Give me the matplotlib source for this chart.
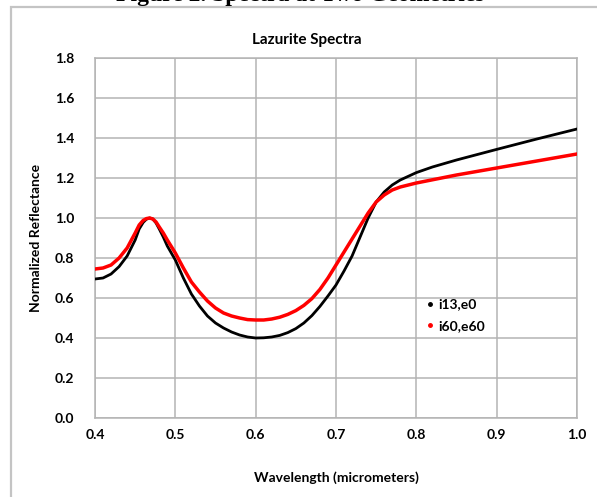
import numpy as np
import matplotlib.pyplot as plt
from matplotlib.lines import Line2D
from matplotlib.patches import Rectangle

# Data (wavelength in micrometers, normalized reflectance)
wl_black = [0.40, 0.41, 0.42, 0.43, 0.44, 0.45, 0.455, 0.46, 0.464, 0.468, 0.472, 0.476,
            0.48, 0.485, 0.49, 0.50, 0.51, 0.52, 0.53, 0.54, 0.55, 0.56, 0.57, 0.58,
            0.59, 0.60, 0.61, 0.62, 0.63, 0.64, 0.65, 0.66, 0.67, 0.68, 0.69, 0.70,
            0.71, 0.72, 0.73, 0.74, 0.75, 0.76, 0.77, 0.78, 0.80, 0.82, 0.85, 0.90,
            0.95, 1.00]
refl_black = [0.695, 0.70, 0.72, 0.757, 0.81, 0.89, 0.945, 0.978, 0.994, 1.00, 0.995, 0.975,
              0.945, 0.905, 0.86, 0.79, 0.70, 0.62, 0.56, 0.51, 0.475, 0.45, 0.43, 0.415,
              0.405, 0.40, 0.401, 0.405, 0.413, 0.427, 0.447, 0.475, 0.512, 0.558, 0.61, 0.665,
              0.735, 0.81, 0.905, 1.00, 1.08, 1.13, 1.165, 1.19, 1.227, 1.255, 1.29, 1.343,
              1.395, 1.445]

wl_red = [0.40, 0.41, 0.42, 0.43, 0.44, 0.45, 0.455, 0.46, 0.464, 0.468, 0.472, 0.476,
          0.48, 0.485, 0.49, 0.50, 0.51, 0.52, 0.53, 0.54, 0.55, 0.56, 0.57, 0.58,
          0.59, 0.60, 0.61, 0.62, 0.63, 0.64, 0.65, 0.66, 0.67, 0.68, 0.69, 0.70,
          0.71, 0.72, 0.73, 0.74, 0.75, 0.76, 0.77, 0.78, 0.80, 0.85, 0.90, 0.95, 1.00]
refl_red = [0.745, 0.75, 0.765, 0.80, 0.85, 0.925, 0.965, 0.988, 0.997, 1.00, 0.995, 0.98,
            0.955, 0.925, 0.89, 0.825, 0.75, 0.68, 0.63, 0.585, 0.55, 0.525, 0.51, 0.50,
            0.492, 0.49, 0.49, 0.495, 0.504, 0.518, 0.537, 0.563, 0.597, 0.643, 0.70, 0.765,
            0.83, 0.895, 0.96, 1.025, 1.08, 1.115, 1.14, 1.155, 1.175, 1.215, 1.25, 1.285, 1.32]

labels = ["i13,e0", "i60,e60"]
x_ticks = [0.4, 0.5, 0.6, 0.7, 0.8, 0.9, 1.0]
y_ticks = [0.0, 0.2, 0.4, 0.6, 0.8, 1.0, 1.2, 1.4, 1.6, 1.8]

plt.rcParams['font.family'] = ['Lato', 'DejaVu Sans']

W, H = 597, 497
fig = plt.figure(figsize=(W / 100, H / 100), dpi=100)
ax = fig.add_axes([95 / W, 1 - 418 / H, (577 - 95) / W, (418 - 58) / H])

# chart area frame and cropped caption above it
fig.patches.append(Rectangle((11 / W, -0.1), 1.2, 1 - 7 / H + 0.1, transform=fig.transFigure,
                             fill=False, edgecolor='#c4c4c4', linewidth=1.6))
fig.text(300 / W, 1 + 4 / H, "Figure 2. Spectra at Two Geometries", ha='center', va='center',
         family='Liberation Serif', fontweight='bold', fontsize=17)

ax.plot(wl_black, refl_black, color='black', linewidth=2.0, zorder=3)
ax.plot(wl_red, refl_red, color='#ff0000', linewidth=2.5, zorder=3)

ax.set_xlim(0.4, 1.0)
ax.set_ylim(0.0, 1.8)
ax.set_xticks(x_ticks)
ax.set_yticks(y_ticks)
ax.set_xticklabels(["{:.1f}".format(v) for v in x_ticks], fontweight='bold', fontsize=10)
ax.set_yticklabels(["{:.1f}".format(v) for v in y_ticks], fontweight='bold', fontsize=10)
ax.tick_params(length=0, pad=15)
ax.tick_params(axis='x', pad=8)

ax.grid(True, color='#b4b4b4', linewidth=1.1)
ax.set_axisbelow(True)
for s in ax.spines.values():
    s.set_color('#b4b4b4')
    s.set_linewidth(1.1)

ax.set_title("Lazurite Spectra", fontweight='bold', fontsize=11, pad=0, x=(307 - 95) / 482, y=1 + 14 / 360)
ax.set_xlabel("Wavelength (micrometers)", fontweight='bold', fontsize=10, labelpad=22)
ax.set_ylabel("Normalized Reflectance", fontweight='bold', fontsize=10, labelpad=9)

handles = [Line2D([], [], color='black', marker='o', markersize=2.5, linestyle='none'),
           Line2D([], [], color='#ff0000', marker='o', markersize=2.5, linestyle='none')]
ax.legend(handles, labels, loc='center left', bbox_to_anchor=(0.655, 0.285), frameon=False,
          handletextpad=0.1, handlelength=1.0, labelspacing=0.7,
          prop={'weight': 'bold', 'size': 10})

fig.savefig("out.png", dpi=100)
